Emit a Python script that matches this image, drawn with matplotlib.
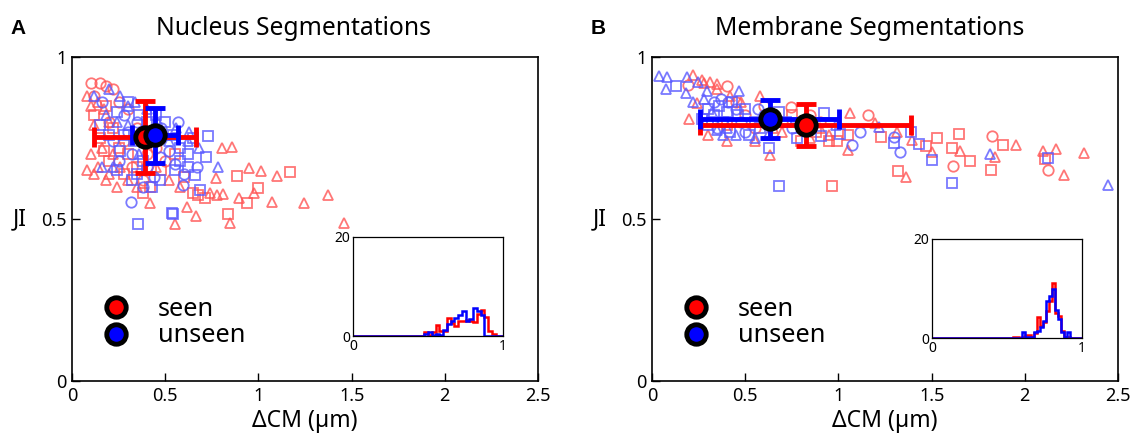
import matplotlib
matplotlib.use("Agg")
import matplotlib.pyplot as plt
from matplotlib.lines import Line2D
import numpy as np

plt.rcParams['font.family'] = ['Noto Sans', 'DejaVu Sans']

# ---------------- Panel A data (Nucleus) ----------------
a_seen_circ_x = [0.10, 0.15, 0.18, 0.22, 0.12, 0.25, 0.30, 0.20, 0.35, 0.28, 0.40, 0.45, 0.32, 0.50, 0.38]
a_seen_circ_y = [0.92, 0.92, 0.91, 0.90, 0.88, 0.86, 0.84, 0.80, 0.78, 0.74, 0.70, 0.72, 0.66, 0.68, 0.62]
a_seen_sq_x = [0.12, 0.18, 0.22, 0.15, 0.25, 0.30, 0.20, 0.35, 0.28, 0.42, 0.48, 0.55, 0.60, 0.65, 0.38, 0.17,
               0.887, 1.172, 1.00, 0.941, 0.715, 0.839, 0.677]
a_seen_sq_y = [0.82, 0.85, 0.78, 0.75, 0.72, 0.70, 0.68, 0.66, 0.64, 0.60, 0.65, 0.70, 0.63, 0.58, 0.58, 0.71,
               0.633, 0.645, 0.596, 0.549, 0.565, 0.515, 0.574]
a_seen_tri_x = [0.805, 0.860, 0.952, 1.016, 1.102, 0.774, 1.376, 1.242, 1.075, 0.898, 0.742, 0.780, 0.812, 0.618,
                0.667, 0.554, 0.849, 1.457, 0.978,
                0.08, 0.10, 0.14, 0.17, 0.20, 0.12, 0.16, 0.10, 0.14, 0.20, 0.22, 0.26, 0.30, 0.18, 0.24, 0.35,
                0.45, 0.52, 0.58, 0.42, 0.12, 0.08]
a_seen_tri_y = [0.718, 0.722, 0.657, 0.648, 0.633, 0.627, 0.574, 0.549, 0.552, 0.565, 0.580, 0.574, 0.577, 0.537,
                0.509, 0.485, 0.488, 0.488, 0.580,
                0.88, 0.85, 0.86, 0.84, 0.80, 0.79, 0.72, 0.70, 0.66, 0.64, 0.70, 0.66, 0.62, 0.62, 0.60, 0.60,
                0.66, 0.62, 0.60, 0.55, 0.64, 0.65]

a_unseen_circ_x = [0.16, 0.28, 0.35, 0.42, 0.47, 0.52, 0.55, 0.60, 0.32, 0.25, 0.40, 0.44, 0.38, 0.22, 0.30,
                   0.48, 0.57, 0.317, 0.597, 0.672]
a_unseen_circ_y = [0.86, 0.82, 0.80, 0.74, 0.69, 0.71, 0.67, 0.64, 0.70, 0.68, 0.66, 0.63, 0.60, 0.74, 0.77,
                   0.78, 0.80, 0.552, 0.605, 0.660]
a_unseen_sq_x = [0.24, 0.30, 0.36, 0.40, 0.45, 0.50, 0.54, 0.58, 0.62, 0.65, 0.28, 0.33, 0.20, 0.26, 0.38, 0.35,
                 0.43, 0.47, 0.55, 0.58, 0.62, 0.32, 0.15, 0.24, 0.543, 0.355, 0.688, 0.731, 0.720, 0.661, 0.535]
a_unseen_sq_y = [0.83, 0.86, 0.82, 0.80, 0.82, 0.80, 0.76, 0.72, 0.70, 0.75, 0.76, 0.74, 0.76, 0.71, 0.68, 0.64,
                 0.60, 0.62, 0.65, 0.68, 0.66, 0.62, 0.79, 0.65, 0.515, 0.485, 0.590, 0.756, 0.691, 0.636, 0.52]
a_unseen_tri_x = [0.12, 0.20, 0.26, 0.30, 0.18, 0.24, 0.34, 0.40, 0.46, 0.50, 0.56, 0.62, 0.68, 0.30, 0.16,
                  0.22, 0.36, 0.52, 0.785, 0.63]
a_unseen_tri_y = [0.88, 0.90, 0.88, 0.85, 0.82, 0.80, 0.86, 0.84, 0.80, 0.76, 0.78, 0.74, 0.72, 0.79, 0.66,
                  0.66, 0.70, 0.74, 0.660, 0.77]

a_seen_mean = (0.39, 0.753)
a_seen_err = (0.273, 0.112)
a_unseen_mean = (0.446, 0.758)
a_unseen_err = (0.124, 0.084)

# inset histograms A (density), bin width 0.025
a_hist_edges = np.arange(0, 1.0001, 0.025)
a_hist_seen = [0]*19 + [0.9, 0.3, 0.8, 2.2, 1.0, 1.0, 3.6, 2.7, 2.0, 3.0, 3.0, 3.2, 3.0, 2.8, 4.5, 5.2, 3.8, 1.0, 0.4, 0, 0]
a_hist_unseen = [0]*19 + [0.5, 0.8, 0.3, 0.5, 0.3, 1.2, 2.4, 3.0, 3.6, 4.2, 5.0, 3.0, 3.5, 5.6, 5.0, 4.2, 0, 0, 0, 0, 0]

# ---------------- Panel B data (Membrane) ----------------
b_seen_circ_x = [1.823, 1.615, 2.127, 1.160, 0.747, 0.401, 0.195, 0.45, 0.50, 0.60, 0.70, 0.85, 0.90, 0.55]
b_seen_circ_y = [0.756, 0.664, 0.651, 0.821, 0.847, 0.910, 0.915, 0.86, 0.82, 0.85, 0.80, 0.82, 0.80, 0.78]
b_seen_sq_x = [0.968, 1.821, 1.706, 1.611, 1.647, 1.531, 1.885, 2.108, 1.319, 1.229, 1.468, 0.993,
               0.62, 0.75, 0.88, 0.80, 0.95, 1.05, 0.40]
b_seen_sq_y = [0.602, 0.650, 0.680, 0.720, 0.762, 0.751, 0.728, 0.684, 0.649, 0.752, 0.726, 0.742,
               0.80, 0.82, 0.77, 0.74, 0.74, 0.76, 0.79]
b_seen_tri_x = [2.319, 2.208, 2.167, 2.100, 1.952, 1.840, 1.652, 1.360, 1.504, 1.312, 1.199, 1.061, 1.050,
                0.634, 0.240, 0.267, 0.312, 0.348, 0.22, 1.396,
                0.20, 0.30, 0.40, 0.55, 0.65, 0.70, 0.80, 0.85, 0.90, 0.95, 0.35, 0.28, 0.42, 0.48, 0.58]
b_seen_tri_y = [0.705, 0.636, 0.715, 0.711, 0.728, 0.692, 0.711, 0.631, 0.708, 0.769, 0.797, 0.828, 0.713,
                0.698, 0.857, 0.929, 0.924, 0.918, 0.944, 0.744,
                0.81, 0.76, 0.74, 0.74, 0.78, 0.77, 0.80, 0.75, 0.78, 0.76, 0.90, 0.92, 0.88, 0.86, 0.88]

b_unseen_circ_x = [1.118, 1.074, 1.328, 1.296, 0.33, 0.37, 0.41, 0.48, 0.50, 0.35, 0.45, 0.60, 0.75, 0.57]
b_unseen_circ_y = [0.769, 0.728, 0.708, 0.753, 0.86, 0.87, 0.86, 0.80, 0.77, 0.78, 0.84, 0.82, 0.78, 0.84]
b_unseen_sq_x = [0.129, 0.629, 0.679, 1.611, 2.124, 1.504, 1.432, 1.297, 1.007, 0.907, 0.921, 1.387,
                 0.30, 0.33, 0.36, 0.40, 0.43, 0.46, 0.50, 0.38, 0.30, 0.27, 0.55, 0.58, 0.42, 0.52, 0.68, 0.72, 0.78]
b_unseen_sq_y = [0.911, 0.718, 0.603, 0.610, 0.688, 0.682, 0.733, 0.736, 0.762, 0.755, 0.826, 0.770,
                 0.84, 0.82, 0.85, 0.83, 0.86, 0.82, 0.84, 0.80, 0.79, 0.81, 0.80, 0.78, 0.77, 0.76, 0.83, 0.80, 0.75]
b_unseen_tri_x = [0.038, 0.082, 0.075, 0.186, 0.181, 0.249, 0.294, 0.468, 0.348, 2.445, 1.812, 1.217, 0.989,
                  0.28, 0.32, 0.40, 0.45, 0.55, 0.62, 0.38, 0.22]
b_unseen_tri_y = [0.941, 0.937, 0.900, 0.937, 0.888, 0.924, 0.896, 0.895, 0.775, 0.604, 0.700, 0.785, 0.790,
                  0.87, 0.83, 0.78, 0.76, 0.75, 0.76, 0.76, 0.86]

b_seen_mean = (0.824, 0.790)
b_seen_err = (0.566, 0.064)
b_unseen_mean = (0.631, 0.808)
b_unseen_err = (0.372, 0.058)

b_hist_edges = np.arange(0, 1.0001, 0.02)
b_hist_seen = [0]*27 + [0.3, 0.2, 0, 0.3, 0.6, 0.6, 0.3, 1.0, 4.2, 2.5, 3.3, 5.4, 7.5, 11.2, 5.0, 4.5, 1.5, 0.3, 0.3, 0, 0, 0, 0]
b_hist_unseen = [0]*30 + [1.2, 0.3, 0.3, 0.3, 1.2, 1.5, 2.2, 3.5, 7.5, 8.5, 9.9, 5.6, 3.8, 1.2, 0.3, 1.2, 0, 0, 0, 0]

xticks = [0, 0.5, 1, 1.5, 2, 2.5]
xticklabels = ['0', '0.5', '1', '1.5', '2', '2.5']
yticks = [0, 0.5, 1]
yticklabels = ['0', '0.5', '1']

RED = (1.0, 0.33, 0.33, 0.8)
BLUE = (0.35, 0.35, 1.0, 0.8)

W, H = 1142, 434
fig = plt.figure(figsize=(W/100, H/100), dpi=100)


def px_axes(l, t, r, b):
    return fig.add_axes([l/W, 1 - b/H, (r-l)/W, (b-t)/H])


def draw_panel(ax, sets, seen_m, seen_e, unseen_m, unseen_e):
    for (xs, ys, mk, col) in sets:
        ax.plot(xs, ys, linestyle='none', marker=mk, markersize=7.5, mfc='none',
                mec=col, mew=1.3)
    ax.errorbar([seen_m[0]], [seen_m[1]], xerr=[seen_e[0]], yerr=[seen_e[1]], fmt='none',
                ecolor='red', elinewidth=3.5, capsize=7, capthick=3.5, zorder=5)
    ax.errorbar([unseen_m[0]], [unseen_m[1]], xerr=[unseen_e[0]], yerr=[unseen_e[1]], fmt='none',
                ecolor='blue', elinewidth=3.5, capsize=7, capthick=3.5, zorder=6)
    ax.plot([seen_m[0]], [seen_m[1]], 'o', color='red', mec='black', mew=3.5, markersize=14, zorder=7)
    ax.plot([unseen_m[0]], [unseen_m[1]], 'o', color='blue', mec='black', mew=3.5, markersize=14, zorder=8)
    ax.set_xlim(0, 2.5)
    ax.set_ylim(0, 1)
    ax.set_xticks(xticks)
    ax.set_xticklabels(xticklabels)
    ax.set_yticks(yticks)
    ax.set_yticklabels(yticklabels)
    ax.tick_params(direction='in', length=6, width=1, labelsize=13, pad=4)
    for s in ax.spines.values():
        s.set_linewidth(1.2)
    ax.set_xlabel('ΔCM (µm)', fontsize=16.5, labelpad=3)
    ax.set_ylabel('JI', fontsize=16.5, rotation=0, labelpad=15, va='center')
    handles = [Line2D([], [], linestyle='none', marker='o', color='red', mec='black', mew=3.5, markersize=14),
               Line2D([], [], linestyle='none', marker='o', color='blue', mec='black', mew=3.5, markersize=14)]
    ax.legend(handles, ['seen', 'unseen'], loc='center left', bbox_to_anchor=(0.068, 0.18),
              frameon=False, fontsize=18.2, handletextpad=1.15, labelspacing=0.06, borderaxespad=0,
              handlelength=1.0, borderpad=0)


def draw_inset(ax, edges, seen, unseen):
    ax.stairs(seen, edges, color='red', linewidth=1.8)
    ax.stairs(unseen, edges, color='blue', linewidth=1.8)
    ax.set_xlim(0, 1)
    ax.set_ylim(0, 20)
    ax.set_xticks([0, 1])
    ax.set_xticklabels(['0', '1'])
    ax.set_yticks([0, 20])
    ax.set_yticklabels(['0', '20'])
    ax.tick_params(length=0, labelsize=10, pad=2)
    for s in ax.spines.values():
        s.set_linewidth(0.9)


axA = px_axes(72, 57, 538, 381)
draw_panel(axA, [
    (a_seen_circ_x, a_seen_circ_y, 'o', RED),
    (a_seen_sq_x, a_seen_sq_y, 's', RED),
    (a_seen_tri_x, a_seen_tri_y, '^', RED),
    (a_unseen_circ_x, a_unseen_circ_y, 'o', BLUE),
    (a_unseen_sq_x, a_unseen_sq_y, 's', BLUE),
    (a_unseen_tri_x, a_unseen_tri_y, '^', BLUE),
], a_seen_mean, a_seen_err, a_unseen_mean, a_unseen_err)
axA.set_title('Nucleus Segmentations', fontsize=17.8, pad=16, x=0.475)

axB = px_axes(652, 57, 1118, 381)
draw_panel(axB, [
    (b_seen_circ_x, b_seen_circ_y, 'o', RED),
    (b_seen_sq_x, b_seen_sq_y, 's', RED),
    (b_seen_tri_x, b_seen_tri_y, '^', RED),
    (b_unseen_circ_x, b_unseen_circ_y, 'o', BLUE),
    (b_unseen_sq_x, b_unseen_sq_y, 's', BLUE),
    (b_unseen_tri_x, b_unseen_tri_y, '^', BLUE),
], b_seen_mean, b_seen_err, b_unseen_mean, b_unseen_err)
axB.set_title('Membrane Segmentations', fontsize=17.8, pad=16, x=0.468)

insA = px_axes(353, 237, 503, 336)
draw_inset(insA, a_hist_edges, a_hist_seen, a_hist_unseen)
insB = px_axes(932, 239, 1082, 338)
draw_inset(insB, b_hist_edges, b_hist_seen, b_hist_unseen)

fig.text(18/W, 1 - 28/H, 'A', fontsize=15, fontweight='bold', family='Liberation Sans',
         va='center', ha='center')
fig.text(598/W, 1 - 28/H, 'B', fontsize=15, fontweight='bold', family='Liberation Sans',
         va='center', ha='center')

fig.savefig('out.png', dpi=100)
